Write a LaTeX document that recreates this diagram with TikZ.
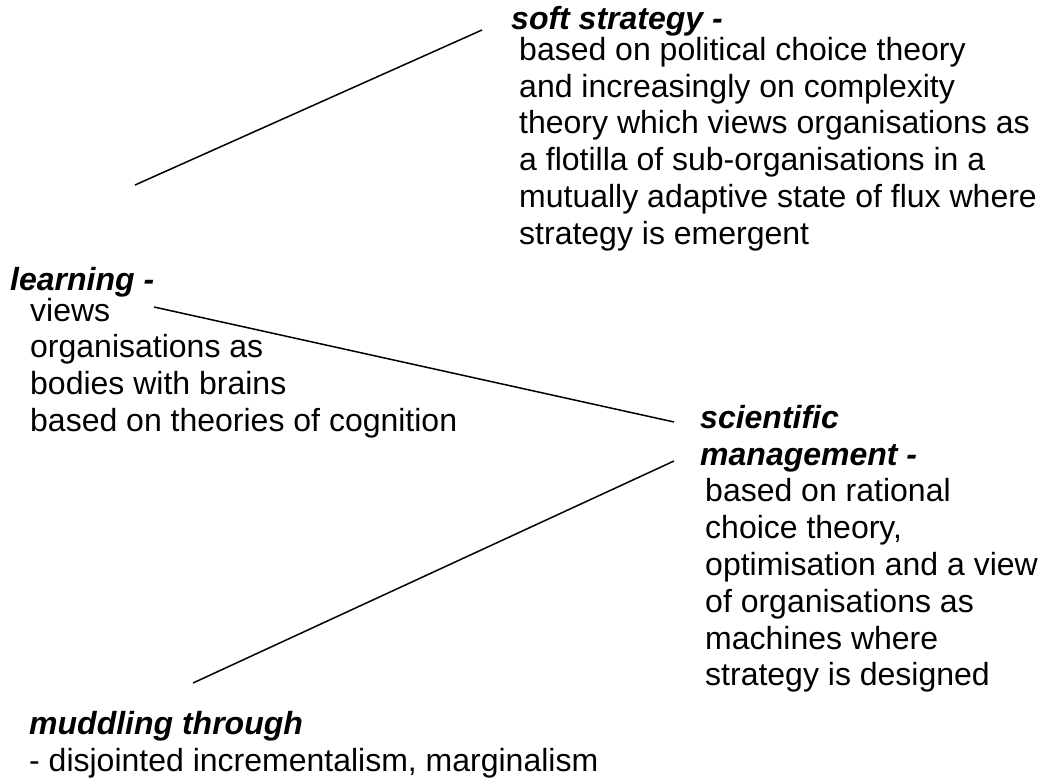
\documentclass[tikz,border=0pt]{standalone}
\usepackage{fontspec}
\setmainfont{Liberation Sans}
\usetikzlibrary{positioning}

\begin{document}
\begin{tikzpicture}[
	%	style def
    x=1pt, y=-1pt,
    link line/.style={line width=1.5pt},
    every node/.style={anchor=north west, inner sep=0pt, align=left,
        execute at begin node={\rule{0pt}{29pt}}},
    heading/.style={font=\fontsize{32}{36.8}\selectfont\bfseries\itshape},
    body text/.style={font=\fontsize{32}{36.8}\selectfont}
    ]
    \useasboundingbox (0,0) rectangle (1048,778);

	% soft strategy, top right
	\node[heading] (soft) at (511,0) {soft strategy -};
	\node[body text] (soft text) at (519,37) {based on political choice theory\\
	    and increasingly on complexity\\
	    theory which views organisations as\\
	    a flotilla of sub-organisations in a\\
	    mutually adaptive state of flux where\\
	    strategy is emergent};

	% learning, left
	\node[heading] (learn) at (10,261) {learning -};
	\node[body text] (learn text) at (30,297.8) {views\\
	    organisations as\\
	    bodies with brains\\
	    based on theories of cognition};

	% scientific management, right
	\node[heading] (sci) at (700,405) {scientific\\management -};
	\node[body text] (sci text) at (705,478.6) {based on rational\\
	    choice theory,\\
	    optimisation and a view\\
	    of organisations as\\
	    machines where\\
	    strategy is designed};

	% muddling through, bottom left
	\node[heading] (muddle) at (29,705.5) {muddling through};
	\node[body text] (muddle text) at (29,742.3) {- disjointed incrementalism, marginalism};

	% the three lines
	\coordinate (a1) at (135,185);
	\coordinate (a2) at (482,30);
	\coordinate (b1) at (154,307);
	\coordinate (b2) at (674,422);
	\coordinate (c1) at (193,683);
	\coordinate (c2) at (674,461);
	\draw[link line] (a1) -- (a2);
	\draw[link line] (b1) -- (b2);
	\draw[link line] (c1) -- (c2);
\end{tikzpicture}
\end{document}
